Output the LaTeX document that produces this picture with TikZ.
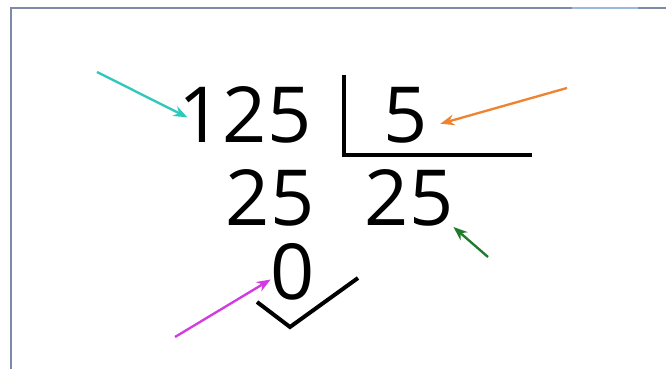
\documentclass[tikz,border=0pt]{standalone}
\usepackage{fontspec}
\setmainfont{Open Sans}
\usetikzlibrary{arrows.meta}

\definecolor{framegray}{HTML}{7F89A8}
\definecolor{framelight}{HTML}{9DB8E0}
\definecolor{arrowcyan}{HTML}{2FC8BC}
\definecolor{arroworange}{HTML}{EE8432}
\definecolor{arrowgreen}{HTML}{1F7A2A}
\definecolor{arrowpink}{HTML}{D23BE0}

\begin{document}
\begin{tikzpicture}[x=0.03cm, y=-0.03cm,
    every node/.style={font=\fontsize{66}{80}\selectfont, inner sep=0pt, anchor=base},
    pointer/.style={-{Stealth[length=4.2mm, width=3.2mm]}, line width=2pt},
    stroke/.style={line width=3.4pt}]
    \useasboundingbox (0,0) rectangle (666,369);
    \draw[framegray, line width=1.4pt] (11,369) -- (11,8) -- (666,8);
    \draw[framelight, line width=1.5pt] (572,8) -- (638,8);

    \node (dividend) at (245,143) {125};
    \node (divisor) at (406,143) {5};
    \node (product) at (270,226) {25};
    \node (quotient) at (409,226) {25};
    \node (remainder) at (293,299) {0};

    \draw[stroke] (344,75) -- (344,155) -- (532,155);
    \draw[stroke] (257,302) -- (290,327) -- (358,278);

    \coordinate (cyantail) at (97,72);
    \coordinate (orangetail) at (567,88);
    \coordinate (greentail) at (488,257);
    \coordinate (pinktail) at (175,337);

    \draw[pointer, arrowcyan] (cyantail) -- ([shift={(9,2)}]dividend.west);
    \draw[pointer, arroworange] (orangetail) -- ([shift={(12,8)}]divisor.east);
    \draw[pointer, arrowgreen] (greentail) -- (quotient.south east);
    \draw[pointer, arrowpink] (pinktail) -- (remainder.200);
\end{tikzpicture}
\end{document}
